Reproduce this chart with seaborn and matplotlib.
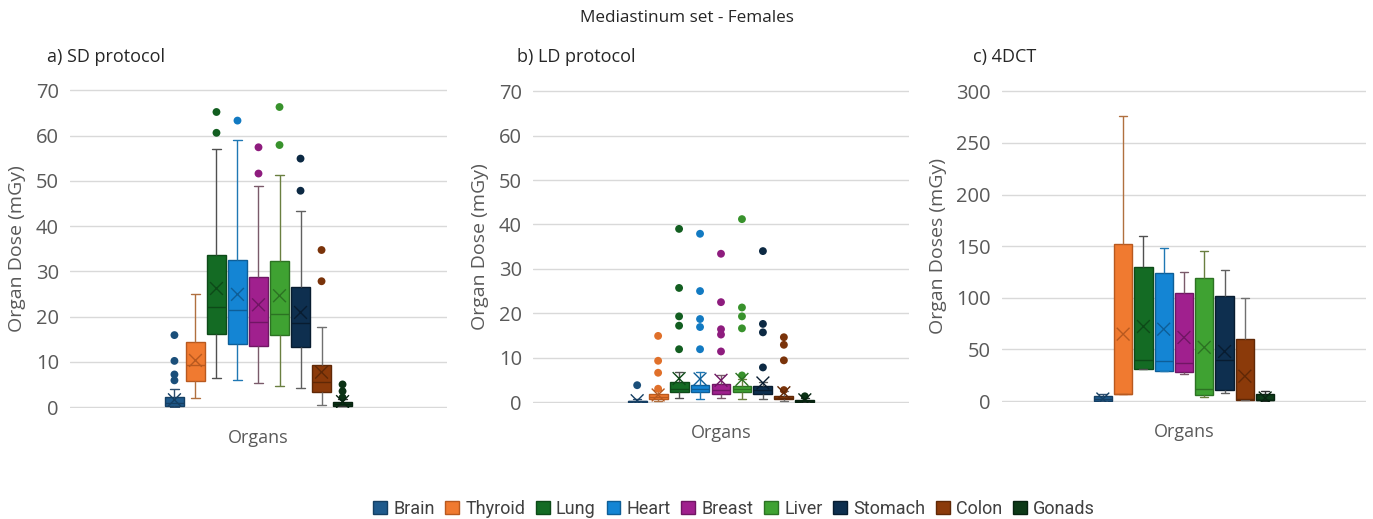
import numpy as np
import pandas as pd
import matplotlib
matplotlib.use('Agg')
import matplotlib.pyplot as plt
import seaborn as sns
from matplotlib.patches import Patch

organs = ['Brain', 'Thyroid', 'Lung', 'Heart', 'Breast', 'Liver', 'Stomach', 'Colon', 'Gonads']

# a) SD protocol - box stats
sd_lo = [0.1, 1.9, 6.5, 6.0, 5.4, 4.6, 4.2, 0.5, 0.2]
sd_q1 = [0.3, 5.8, 16.1, 13.9, 13.6, 15.9, 13.3, 3.4, 0.3]
sd_med = [0.9, 9.3, 22.1, 21.5, 18.8, 20.5, 18.6, 5.6, 0.7]
sd_q3 = [2.3, 14.3, 33.6, 32.6, 28.7, 32.2, 26.6, 9.2, 1.2]
sd_hi = [3.9, 25.0, 57.0, 58.9, 48.9, 51.3, 43.3, 17.7, 1.8]
sd_mean = [1.6, 10.3, 26.2, 24.9, 22.6, 24.6, 20.9, 7.7, 1.2]
sd_out = [[5.9, 7.2, 10.2, 15.9], [], [60.6, 65.2], [63.3], [51.6, 57.4],
          [57.9, 66.3], [47.8, 54.9], [27.8, 34.7], [2.1, 3.5, 5.0]]

# b) LD protocol
ld_lo = [0.0, 0.3, 1.0, 0.6, 0.9, 0.7, 0.7, 0.3, 0.0]
ld_q1 = [0.05, 0.7, 2.2, 2.2, 1.9, 2.2, 1.9, 0.6, 0.05]
ld_med = [0.15, 1.2, 3.0, 3.0, 2.8, 3.0, 2.8, 0.9, 0.15]
ld_q3 = [0.3, 1.8, 4.6, 3.9, 4.0, 3.6, 3.7, 1.3, 0.4]
ld_hi = [0.6, 2.8, 6.8, 6.7, 6.0, 5.2, 4.6, 2.4, 0.9]
ld_mean = [0.3, 1.6, 5.3, 5.2, 4.9, 5.1, 4.3, 2.1, 0.5]
ld_out = [[3.8], [3.0, 6.6, 9.3, 14.9], [11.9, 17.2, 19.3, 25.7, 39.0],
          [11.9, 16.9, 18.7, 25.0, 37.9], [11.4, 15.2, 16.4, 22.5, 33.4],
          [6.0, 16.6, 19.3, 21.3, 41.2], [7.8, 15.7, 17.6, 34.0],
          [2.7, 9.4, 12.9, 14.6], [1.3]]

# c) 4DCT
ct_lo = [0.0, 6.4, 31.0, 29.5, 26.0, 4.2, 7.4, 1.3, 0.3]
ct_q1 = [0.2, 6.4, 31.4, 29.5, 28.2, 6.1, 10.6, 1.3, 0.6]
ct_med = [2.0, 6.4, 40.1, 38.5, 36.9, 11.9, 40.0, 2.0, 1.5]
ct_q3 = [4.8, 151.7, 129.6, 124.2, 104.6, 119.0, 102.0, 59.7, 6.7]
ct_hi = [6.7, 276.5, 159.4, 148.2, 125.4, 145.7, 127.0, 100.1, 10.0]
ct_mean = [2.0, 64.8, 72.2, 69.6, 61.6, 52.0, 48.0, 24.1, 3.0]
ct_out = [[], [], [], [], [], [], [], [], []]

colors = ['#1F5A8C', '#F07A30', '#146B24', '#1485D4', '#A0208E',
          '#3FA232', '#0E2F4F', '#8B3A0A', '#0D3A18']
edges = ['#153F63', '#B8591F', '#0D4A18', '#0E5E97', '#701664',
         '#2C7223', '#081C30', '#602806', '#072310']
whisk = ['#2F4F6F', '#B0703F', '#505050', '#1F78B4', '#7A5A6A',
         '#6A7F40', '#606060', '#707070', '#303030']
dots = ['#1B4F7A', '#E0702A', '#125E20', '#127AC2', '#8E1C7E',
        '#38922C', '#0C2943', '#7A330A', '#0B3215']

sns.set_style('white')
plt.rcParams['font.family'] = ['Open Sans', 'DejaVu Sans']

fig = plt.figure(figsize=(13.73, 5.19), dpi=100)


def draw_panel(rect, lo, q1, med, q3, hi, mean, out, ymax, step, ylabel, label, label_x):
    ax = fig.add_axes(rect)
    for i, org in enumerate(organs):
        vals = [lo[i], q1[i], med[i], q3[i], hi[i]]
        sns.boxplot(x=[org] * 5, y=vals, order=organs, color=colors[i],
                    linecolor=edges[i], saturation=1, width=0.9, whis=(0, 100),
                    fliersize=0, linewidth=1, ax=ax)
        box = ax.containers[-1]
        for w in box.whiskers:
            w.set_color(whisk[i])
        for c in box.caps:
            c.set_color(whisk[i])
            c.set_xdata([i - 0.2, i + 0.2])
    # outliers
    ox, oy, oc = [], [], []
    for i, vals in enumerate(out):
        for v in vals:
            ox.append(i)
            oy.append(v)
            oc.append(organs[i])
    if ox:
        odf = pd.DataFrame({'pos': ox, 'val': oy, 'organ': oc})
        sns.scatterplot(data=odf, x='pos', y='val', hue='organ',
                        palette=dict(zip(organs, dots)), s=32, edgecolor='none',
                        legend=False, ax=ax, zorder=4)
    # means
    sns.scatterplot(x=np.arange(len(organs)), y=mean, hue=organs,
                    palette=dict(zip(organs, edges)), marker='x', s=85,
                    linewidth=1.0, legend=False, ax=ax, zorder=5)

    ax.set_xlim(-4.97, 12.97)
    ax.set_ylim(-ymax * 0.003, ymax * 1.004)
    ax.set_yticks(np.arange(0, ymax + 1, step))
    ax.set_xticks([])
    ax.grid(axis='y', color='#D9D9D9', lw=1)
    ax.set_axisbelow(True)
    for s in ax.spines.values():
        s.set_visible(False)
    ax.tick_params(axis='y', labelsize=14.5, colors='#595959', length=0, pad=8)
    ax.set_ylabel(ylabel, fontsize=14, color='#595959', labelpad=7)
    ax.set_xlabel('Organs', fontsize=13, color='#595959', labelpad=15)
    fig.text(label_x, 1 - 57 / 519, label, fontsize=13, va='center', ha='left')
    return ax


draw_panel([70 / 1373, 1 - 408 / 519, 377 / 1373, 319 / 519],
           sd_lo, sd_q1, sd_med, sd_q3, sd_hi, sd_mean, sd_out,
           70, 10, 'Organ Dose (mGy)', 'a) SD protocol', 47 / 1373)
draw_panel([533 / 1373, 1 - 403 / 519, 376 / 1373, 313 / 519],
           ld_lo, ld_q1, ld_med, ld_q3, ld_hi, ld_mean, ld_out,
           70, 10, 'Organ Dose (mGy)', 'b) LD protocol', 517 / 1373)
draw_panel([1002 / 1373, 1 - 402 / 519, 364 / 1373, 312 / 519],
           ct_lo, ct_q1, ct_med, ct_q3, ct_hi, ct_mean, ct_out,
           300, 50, 'Organ Doses (mGy)', 'c) 4DCT', 973 / 1373)

fig.suptitle('Mediastinum set - Females', y=1 - 18 / 519, fontsize=12.3, va='center')

handles = [Patch(facecolor=colors[i], edgecolor=edges[i]) for i in range(len(organs))]
fig.legend(handles, organs, ncol=9, loc='center', bbox_to_anchor=(734 / 1373, 10 / 519),
           frameon=False, labelcolor='#404040', handlelength=0.75,
           handleheight=0.75, handletextpad=0.35, columnspacing=0.6,
           prop={'family': ['Roboto', 'DejaVu Sans'], 'size': 13})

fig.savefig('out.png', dpi=100)
